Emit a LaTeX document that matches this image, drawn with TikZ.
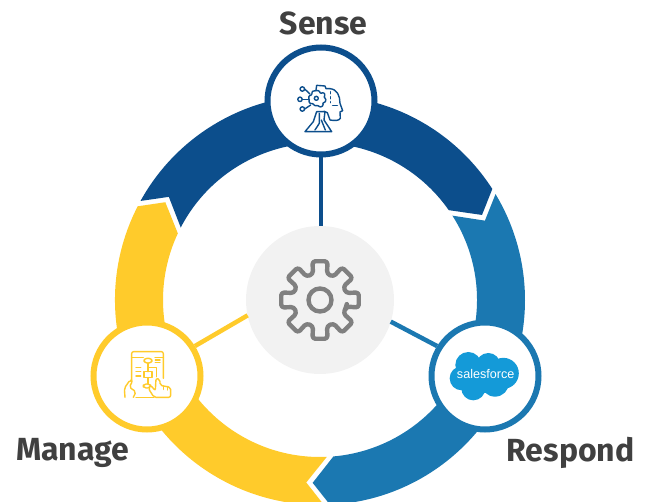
\documentclass[tikz,border=0pt]{standalone}
\usepackage{fontspec}
\setmainfont{Fira Sans}
\newfontfamily\logofont{Liberation Sans}
\definecolor{navy}{HTML}{0C4E8C}
\definecolor{midblue}{HTML}{1B78B1}
\definecolor{amber}{HTML}{FFCB2B}
\definecolor{hubgray}{HTML}{F2F2F2}
\definecolor{cloudblue}{HTML}{149AD8}
\definecolor{geargray}{HTML}{808080}
\definecolor{labelgray}{HTML}{404040}
\tikzset{
  badge/.style={circle,draw=#1,fill=white,line width=6pt,minimum size=107pt,inner sep=0pt},
  link/.style={draw=#1,line width=4.5pt},
  title/.style={font=\fontsize{32}{34}\selectfont\bfseries,text=labelgray,inner sep=0pt},
  icon/.style={draw=#1,line width=1.4pt,line join=round,line cap=round,fill=none}
}
\newcommand{\ringseg}[2]{%
  \begin{scope}[shift={(320,201)},rotate=#2]
    \fill[#1] (32.8:205) arc[start angle=32.8,end angle=151.1,radius=205pt]
      -- (145.7:183) -- (152.5:157)
      arc[start angle=152.5,end angle=34.9,radius=157pt]
      -- (27.7:183) -- cycle;
  \end{scope}}
\begin{document}
\begin{tikzpicture}[x=1pt,y=1pt]
\path[use as bounding box] (0,0) rectangle (648,501);
\clip (0,0) rectangle (648,501);
\ringseg{navy}{0}
\ringseg{amber}{120}
\ringseg{midblue}{-120}
\node[circle,fill=hubgray,minimum size=148pt,inner sep=0pt,outer sep=0pt] (hub) at (320,201) {};
\node[badge=navy] (sense) at (321,400) {};
\node[badge=amber] (manage) at (147,125) {};
\node[badge=midblue] (respond) at (485,125) {};
\draw[link=navy] (sense.-90) -- (sense.-90 |- hub.90);
\draw[link=amber] (manage.32) -- (hub.192);
\draw[link=midblue] (respond.148) -- (hub.-17);
\node[title] (tsense) at (323.5,477.5) {Sense};
\node[title] (tmanage) at (72.5,48.5) {Manage};
\node[title] (trespond) at (570.5,48.5) {Respond};
% central gear
\begin{scope}[shift={(320,201)}]
  \draw[geargray,line width=4.4pt,rounded corners=3pt,line join=round]
    (-14:27) \foreach \a in {0,45,...,315}{ -- (\a-11:39.5) -- (\a+11:39.5) -- (\a+15:27) -- (\a+30:27) } -- cycle;
  \draw[geargray,line width=4.4pt] (0,0) circle[radius=11.5pt];
\end{scope}
% sense icon
\begin{scope}[shift={(250,431)},x=0.3333pt,y=-0.3333pt]
  \foreach \p in {(157,57),(150,88),(157,117)} \draw[icon=navy] \p circle[radius=2.2pt];
  \draw[icon=navy] (164,57) -- (180,72);
  \draw[icon=navy] (157,88) -- (178,88);
  \draw[icon=navy] (164,117) -- (182,105);
  \draw[icon=navy,rounded corners=1pt] (198,62) -- (208,62) -- (211,71) -- (220,67) -- (226,75) -- (221,82) -- (228,86) -- (226,97) -- (218,98) -- (220,107) -- (210,112) -- (204,106) -- (194,108) -- (190,101) -- (178,100) -- (176,78) -- (186,74) -- (186,64) -- cycle;
  \draw[icon=navy] (199,85) circle[radius=2pt];
  \draw[icon=navy] (198,60) -- (200,46) -- (225,48) -- (228,56) -- (240,56);
  \draw[icon=navy] (240,56) .. controls (262,58) and (270,78) .. (270,100) -- (278,122) -- (270,126) -- (271,145) .. controls (268,153) and (252,152) .. (240,150) -- (232,128) -- (222,124);
  \draw[icon=navy] (248,107) -- (262,107);
  \draw[icon=navy,dash pattern=on 2pt off 3pt] (242,65) -- (242,98);
  \draw[icon=navy] (200,125) -- (225,125) -- (222,150) -- (245,185) -- (165,185) -- (190,155) -- cycle;
  \draw[icon=navy] (208,130) -- (208,160) -- (195,180);
  \draw[icon=navy] (214,150) -- (226,180);
\end{scope}
% manage icon
\begin{scope}[shift={(80,191)},x=0.3333pt,y=-0.3333pt]
  \draw[icon=amber,rounded corners=2pt] (155,210) -- (155,125) -- (250,125) -- (250,205);
  \draw[icon=amber] (155,143) -- (190,143);
  \draw[icon=amber] (225,143) -- (250,143);
  \draw[icon=amber,rounded corners=3pt] (192,145) rectangle (216,159);
  \draw[icon=amber] (192,185) rectangle (216,203);
  \draw[icon=amber,rounded corners=3pt] (190,222) rectangle (212,234);
  \draw[icon=amber] (204,159) -- (204,185);
  \draw[icon=amber] (204,203) -- (204,222);
  \draw[icon=amber] (204,172) -- (230,172) -- (230,200);
  \foreach \y in {172,185,198} \draw[icon=amber] (168,\y) -- (182,\y);
  \foreach \y in {150,158} \draw[icon=amber] (226,\y) -- (240,\y);
  \draw[icon=amber,fill=white,rounded corners=2pt] (205,235) -- (222,262) -- (272,262) -- (272,232) -- (240,226) -- (240,208) -- (228,205) -- (226,242) -- (212,226) -- cycle;
  \draw[icon=amber] (250,228) -- (250,238);
  \draw[icon=amber] (262,230) -- (262,240);
  \draw[icon=amber,rounded corners=2pt] (135,262) -- (133,235) -- (150,210) -- (158,212) -- (148,232) -- (168,245) -- (160,262);
  \draw[icon=amber] (168,262) -- (222,262);
\end{scope}
% respond logo
\begin{scope}[shift={(420,191)},x=0.3333pt,y=-0.3333pt]
  \fill[cloudblue] (145,165) circle[radius=13pt] (205,165) circle[radius=12pt]
    (250,190) circle[radius=15.5pt] (125,205) circle[radius=12pt]
    (160,235) circle[radius=12pt] (225,218) circle[radius=14pt] (190,195) circle[radius=18pt];
  \node[text=white,inner sep=0pt,font=\logofont\fontsize{12.6}{13}\selectfont] (logo) at (197,192) {salesforce};
\end{scope}
\end{tikzpicture}
\end{document}
